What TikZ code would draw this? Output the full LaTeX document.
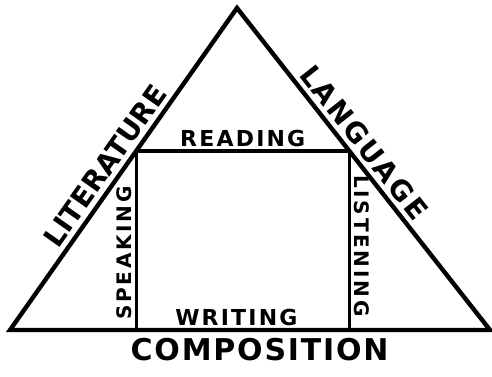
\documentclass[tikz,border=0pt]{standalone}
\usepackage{fontspec}
\setmainfont{DejaVu Sans}
\usetikzlibrary{calc}

\begin{document}
\begin{tikzpicture}[
	x=0.5pt, y=0.5pt,
	% Line styles
	outer line/.style={line width=2.2pt, line join=miter},
	inner line/.style={line width=1.7pt},
	% Text styles
	side label/.style={font=\bfseries\fontsize{14}{14}\selectfont, inner sep=3pt},
	skill label/.style={font=\bfseries\fontsize{11}{11}\selectfont\addfontfeature{LetterSpace=10}, inner sep=2pt},
	edge label/.style={font=\bfseries\fontsize{10}{10}\selectfont\addfontfeature{LetterSpace=14}, inner sep=2pt}
	]
	
	\useasboundingbox (0,0) rectangle (492,376);
	
	% ==============================================================================
	% TRIANGLE
	% ==============================================================================
	\coordinate (A) at (237,368);
	\coordinate (B) at (10,46);
	\coordinate (C) at (490,46);
	\draw[outer line] (A) -- (B) -- (C) -- cycle;
	
	% ==============================================================================
	% INNER RECTANGLE
	% ==============================================================================
	\coordinate (TL) at ($(B)!0.556!(A)$);
	\coordinate (TR) at ($(C)!0.556!(A)$);
	\coordinate (BLr) at (TL |- B);
	\coordinate (BRr) at (TR |- C);
	\draw[inner line] (BLr) -- (TL) -- (TR) -- (BRr);
	
	% ==============================================================================
	% LABELS
	% ==============================================================================
	\path (B) -- (A) node[side label, pos=0.48, sloped, above] (Lit) {LITERATURE};
	\path (A) -- (C) node[side label, pos=0.45, sloped, above, font=\bfseries\fontsize{14}{14}\selectfont\addfontfeature{LetterSpace=8}] (Lang) {LANGUAGE};
	\node[side label, below=1pt, font=\bfseries\fontsize{15}{15}\selectfont\addfontfeature{LetterSpace=6}] (Comp) at ($(B)!0.52!(C)$) {COMPOSITION};
	
	\node[skill label, above] (Read) at ($(TL)!0.5!(TR)$) {READING};
	\node[skill label, above] (Writ) at ($(BLr)!0.47!(BRr)$) {WRITING};
	\node[edge label, rotate=90, above] (Speak) at ($(BLr)!0.43!(TL)$) {SPEAKING};
	\node[edge label, rotate=-90, above] (List) at ($(BRr)!0.47!(TR)$) {LISTENING};
	
\end{tikzpicture}
\end{document}
